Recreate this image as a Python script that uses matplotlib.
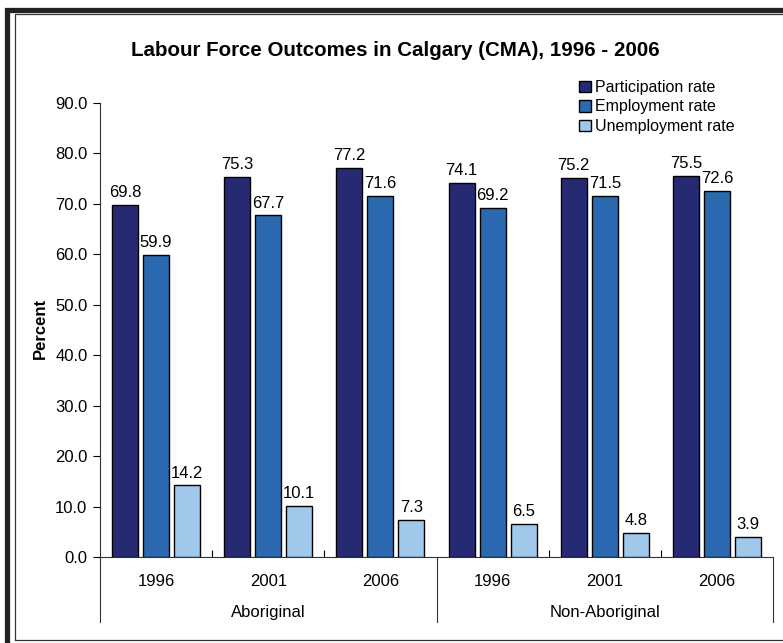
import numpy as np
import matplotlib
matplotlib.use('Agg')
import matplotlib.pyplot as plt
import matplotlib.transforms as mtransforms
from matplotlib.patches import Rectangle

plt.rcParams['font.family'] = ['Liberation Sans', 'DejaVu Sans']

# data
groups = ['Aboriginal', 'Non-Aboriginal']
years = ['1996', '2001', '2006', '1996', '2001', '2006']
series = ['Participation rate', 'Employment rate', 'Unemployment rate']
participation = [69.8, 75.3, 77.2, 74.1, 75.2, 75.5]
employment = [59.9, 67.7, 71.6, 69.2, 71.5, 72.6]
unemployment = [14.2, 10.1, 7.3, 6.5, 4.8, 3.9]
colors = ['#262A72', '#2B69B0', '#A0C8EA']

W, H = 783, 643
fs = 12
fig = plt.figure(figsize=(W / 100, H / 100), dpi=100)
ax = fig.add_axes([100 / W, (H - 557) / H, 673 / W, 454 / H])

x = np.arange(len(years)) + 0.5
bw = 0.232
step = 0.276
for i, (name, vals) in enumerate(zip(series, [participation, employment, unemployment])):
    pos = x + (i - 1) * step
    ax.bar(pos, vals, width=bw, color=colors[i], edgecolor='black',
           linewidth=1, label=name, zorder=3)
    for px, v in zip(pos, vals):
        ax.annotate(f'{v:.1f}', (px, v), xytext=(0, 3.5), textcoords='offset points',
                    ha='center', va='bottom', fontsize=fs)

ax.set_xlim(0, 6)
ax.set_ylim(0, 90)
ax.set_yticks(np.arange(0, 91, 10))
ax.set_yticklabels([f'{t:.1f}' for t in np.arange(0, 91, 10)], fontsize=fs)
ax.tick_params(axis='y', direction='out', length=5, width=0.8, pad=4)

# y label placed directly
fig.text(40 / W, 1 - 328 / H, 'Percent', rotation=90, ha='center', va='center',
         fontsize=fs, fontweight='bold')

ax.set_xticks(x)
ax.set_xticklabels(years, fontsize=fs)
ax.tick_params(axis='x', which='major', length=0, pad=12)
ax.set_xticks([1, 2, 4, 5], minor=True)
ax.tick_params(axis='x', which='minor', direction='in', length=5, width=0.8)

for s in ['top', 'right']:
    ax.spines[s].set_visible(False)
ax.spines['left'].set_color('#333333')
ax.spines['bottom'].set_color('#333333')

# group separators below the axis
trans = mtransforms.blended_transform_factory(ax.transData, ax.transAxes)
low = -(622 - 557) / 454
for xs in [0, 3, 6]:
    ax.plot([xs, xs], [0, low], transform=trans, color='#333333', lw=0.8, clip_on=False)
for gi, g in enumerate(groups):
    ax.text(gi * 3 + 1.5, -(613 - 557) / 454, g, transform=trans, ha='center',
            va='center', fontsize=fs)

fig.text(395 / W, 1 - 50 / H, 'Labour Force Outcomes in Calgary (CMA), 1996 - 2006',
         ha='center', va='center', fontsize=14.8, fontweight='bold')

leg = ax.legend(loc='upper left', bbox_to_anchor=(579 / W, 1 - 80 / H),
                bbox_transform=fig.transFigure, frameon=False, fontsize=11.5,
                handlelength=0.75, handleheight=0.75, handletextpad=0.25,
                labelspacing=0.28, borderpad=0, borderaxespad=0)

# figure frame
fig.patches.append(Rectangle((7.5 / W, -10 / H), (W + 20) / W, (H - 9.5 + 10) / H,
                             transform=fig.transFigure, fill=False,
                             edgecolor='#222222', lw=3.8))
fig.patches.append(Rectangle((14.5 / W, (H - 640) / H), (W + 20) / W, (640 - 13.5) / H,
                             transform=fig.transFigure, fill=False,
                             edgecolor='#333333', lw=0.9))

fig.savefig('out.png', dpi=100)
